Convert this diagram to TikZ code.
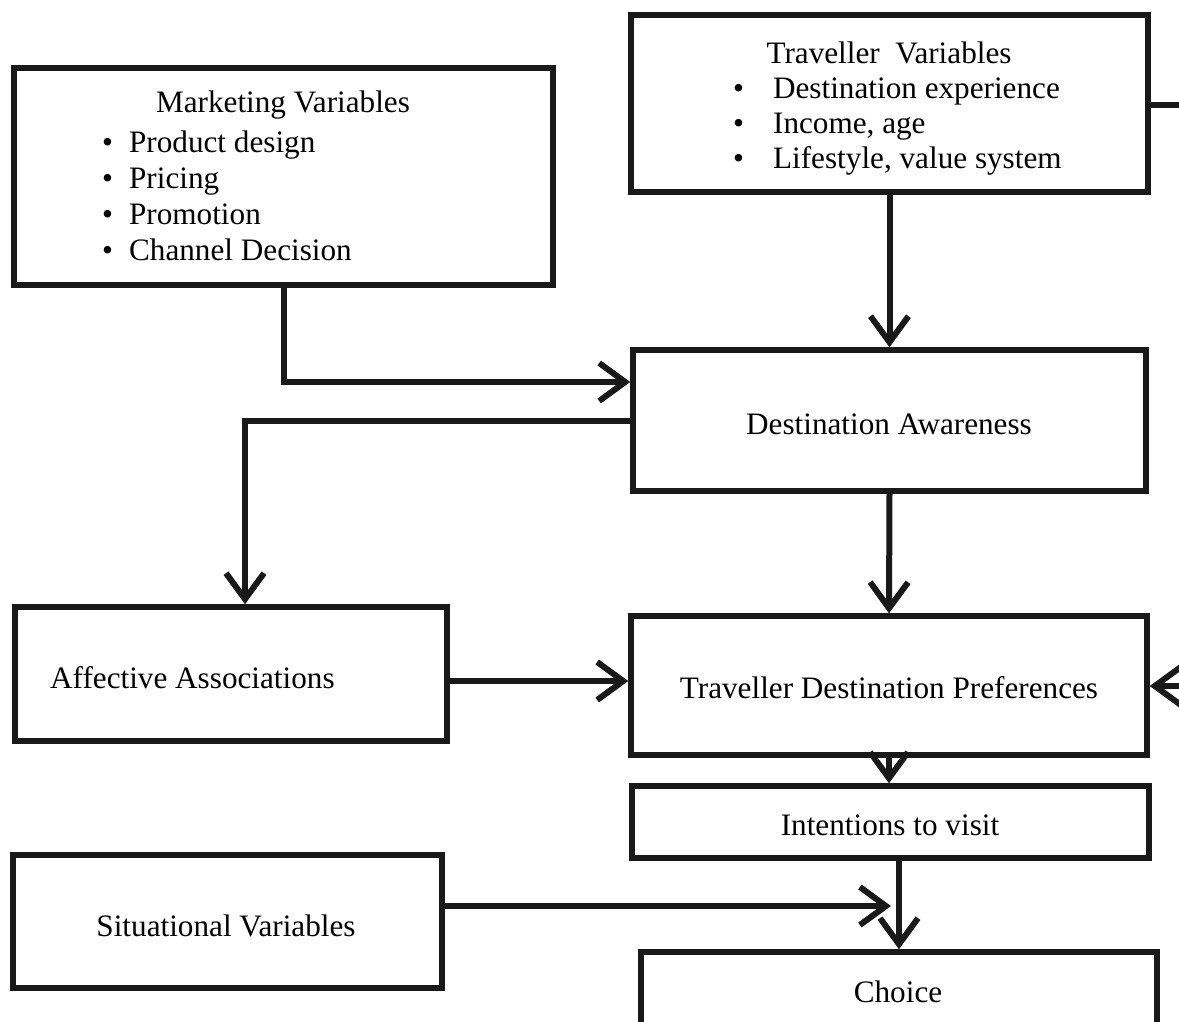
\documentclass[tikz,border=0pt]{standalone}
\usepackage{fontspec}
\setmainfont{Liberation Serif}
\usetikzlibrary{arrows.meta}
\begin{document}
\begin{tikzpicture}[x=1pt,y=-1pt,
  box/.style={draw=black!90, line width=5.5pt, minimum width=#1, inner sep=0pt},
  txt/.style={inner sep=0pt, font=\fontsize{31.2}{36}\selectfont},
  conn/.style={draw=black!90, line width=6pt},
  arr/.style={conn, -{Straight Barb[length=26pt,width=38pt]}}]
\useasboundingbox (0,0) rectangle (1179,1021);
\clip (0,0) rectangle (1179,1021);
% boxes
\node[box=539pt, minimum height=217pt] (mk) at (283.5,176.5) {};
\node[box=517pt, minimum height=177pt] (tv) at (889.5,103.5) {};
\node[box=513pt, minimum height=141pt] (da) at (889.5,420.5) {};
\node[box=432pt, minimum height=134pt] (aa) at (231,674) {};
\node[box=516pt, minimum height=139pt] (tdp) at (889,685.5) {};
\node[box=517pt, minimum height=72pt] (itv) at (890.5,822) {};
\node[box=429pt, minimum height=133pt] (sv) at (227.5,921.5) {};
\node[box=516pt, minimum height=90pt] (ch) at (899,997) {};
% texts
\node[txt] (mkt) at (283,105) {Marketing Variables};
\node[txt, anchor=west, align=left] (mkl) at (102,196) {•\hspace{16pt}Product design\\•\hspace{16pt}Pricing\\•\hspace{16pt}Promotion\\•\hspace{16pt}Channel Decision};
\node[txt] (tvt) at (889,53) {Traveller\ \ Variables};
\node[txt, anchor=west, align=left] (tvl) at (733,127) {•\hspace{29pt}Destination experience\\[-1pt]•\hspace{29pt}Income, age\\[-1pt]•\hspace{29pt}Lifestyle, value system};
\node[txt] (dat) at (889,424) {Destination Awareness};
\node[txt, anchor=west] (aat) at (50,678) {Affective Associations};
\node[txt] (tdpt) at (889,688) {Traveller Destination Preferences};
\node[txt] (itvt) at (890,825) {Intentions to visit};
\node[txt] (svt) at (226,926) {Situational Variables};
\node[txt] (cht) at (898,992) {Choice};
% off-picture ends
\coordinate (re1) at (1200,105);
\coordinate (re2) at (1200,686);
% connectors
\draw[arr] (mk.south) |- ([yshift=38.5pt]da.west);
\draw[arr] (da.west) -| ([xshift=14pt]aa.north);
\draw[arr] (tv.south) -- (da.north);
\draw[arr] (da.south) -- (tdp.north);
\draw[arr] ([yshift=-7pt]aa.east) -- ([yshift=-7pt]aa.east -| tdp.west);
\draw[arr] (tdp.south) -- (tdp.south |- itv.north);
\draw[arr] (ch.north |- itv.south) -- (ch.north);
\coordinate (jn) at ([xshift=-8pt]ch.north |- sv.east);
\draw[arr] ([yshift=15.5pt]sv.east) -- ([yshift=15.5pt]jn);
\draw[conn] ([yshift=-1.5pt]tv.east) -- ([yshift=-1.5pt]tv.east -| re1);
\draw[arr] (re2) -- (tdp.east |- re2);
\end{tikzpicture}
\end{document}
